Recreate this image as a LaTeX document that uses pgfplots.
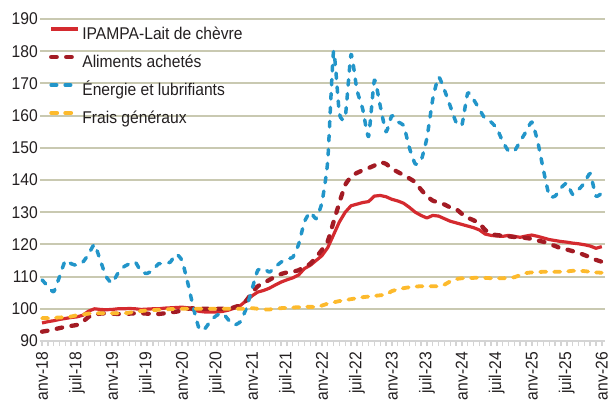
\documentclass[border=0pt]{standalone}
\usepackage{fontspec}
\setmainfont{Liberation Sans}[FakeStretch=0.92]
\usepackage{pgfplots}
\usepackage{pgfplotstable}
\pgfplotsset{compat=1.18}
\definecolor{cRed}{HTML}{D42A2F}
\definecolor{cDark}{HTML}{A31B24}
\definecolor{cBlue}{HTML}{2295C9}
\definecolor{cYel}{HTML}{FDBA2C}
\definecolor{cGrid}{HTML}{C9C9B1}
\definecolor{cAx}{HTML}{D4D4D4}
\definecolor{cTxt}{HTML}{231F20}
\pgfplotstableread{
m  ip    al    en    fr
0  95.6  92.9  109   97.1
1  96.0  93.2  107   97.1
2  96.3  93.6  105.3 97.2
3  96.7  94.0  110   97.3
4  97.0  94.4  115   97.4
5  97.3  94.7  114   97.6
6  97.5  95.0  113.5 98.0
7  98.0  96.0  114.5 98.2
8  99.3  97.5  117   98.5
9  100.0 98.2  120   98.6
10 99.8  98.5  115   98.6
11 99.7  98.6  110   98.6
12 99.8  98.5  108   98.6
13 100.0 98.4  111   98.6
14 100.0 98.4  113   98.6
15 100.1 98.5  114   98.8
16 100.0 98.6  114.5 99.1
17 99.8  98.6  111.5 99.3
18 99.9  98.5  111   99.5
19 100.0 98.4  112   99.6
20 100.0 98.4  114   99.7
21 100.2 98.6  114   99.8
22 100.3 98.9  114.5 99.9
23 100.4 99.1  117   100
24 100.5 99.5  115   100
25 100.3 100.0 108   100
26 99.6  100.2 100   100
27 99.2  100.1 93.5  100
28 99.0  100.0 94    100
29 99.0  100.0 96.5  100
30 99.0  100.0 98    100
31 99.2  100.0 98.6  100
32 99.6  100.0 96.5  100
33 100.2 100.5 95    100
34 101.0 101.2 96    100
35 102.5 102.5 100   100
36 104.0 105.0 106   100.2
37 105.2 107.0 112   100
38 105.7 108.0 112.5 99.8
39 106.4 109.0 111.4 99.8
40 107.4 110.0 113   100
41 108.3 110.8 114.5 100.2
42 109.0 111.3 115.5 100.3
43 109.6 111.5 116   100.4
44 110.5 112.0 120   100.5
45 112.5 113.0 127   100.6
46 113.5 114.0 130   100.6
47 115.0 116.0 128   100.6
48 116.5 118.3 133   101.0
49 119.0 121.0 146   101.6
50 123.0 127.0 180   102.0
51 127.0 133.0 160.5 102.4
52 130.0 138.5 159.5 102.7
53 132.0 141.0 179   103.0
54 132.5 142.2 168   103.3
55 133.0 143.0 162   103.6
56 133.3 143.7 153.5 103.8
57 135.0 144.5 171   104.0
58 135.2 145.5 163   104.2
59 134.8 145.0 155   104.4
60 134.0 143.5 160   105.5
61 133.5 142.5 158   106.0
62 132.8 141.5 157   106.4
63 131.5 140.5 150   106.7
64 130.0 139.3 145   106.9
65 129.0 137.0 146   107.0
66 128.2 135.0 153   107.0
67 129.0 133.6 165   107.0
68 128.8 133.0 172   107.0
69 128.0 132.4 168   107.5
70 127.2 131.5 163   108.5
71 126.7 131.0 158   109.2
72 126.2 129.5 157   109.5
73 125.7 128.3 167   109.5
74 125.2 127.5 165   109.6
75 124.5 126.5 162   109.7
76 123.2 124.5 159   109.6
77 122.8 123.2 158   109.5
78 122.6 122.9 156   109.5
79 122.5 122.7 152   109.5
80 122.8 122.5 149   109.6
81 122.5 122.3 149   109.8
82 122.2 122.2 152   110.5
83 122.6 122.0 155   111.1
84 122.9 121.7 158   111.3
85 122.5 121.2 152   111.4
86 122.0 120.8 143   111.5
87 121.5 120.2 135   111.5
88 121.2 119.5 135   111.5
89 120.9 118.8 137.5 111.5
90 120.7 118.4 139   111.6
91 120.4 117.9 135.5 111.8
92 120.2 117.4 137   111.8
93 119.9 116.7 139   111.7
94 119.5 116.0 142   111.5
95 118.8 115.2 135   111.3
96 119.3 114.6 136   111.2
}\datatab

\begin{document}
\begin{tikzpicture}
\begin{axis}[
  name=main,
  scale only axis, width=565bp, height=322bp,
  xmin=-0.35, xmax=96.55, ymin=90, ymax=190,
  axis x line*=bottom, axis y line*=left,
  y axis line style={draw=none},
  x axis line style={draw=cAx, line width=1.5bp},
  ytick={90,100,...,190},
  xtick={0,6,...,96},
  xticklabels={anv-18,juil-18,anv-19,juil-19,anv-20,juil-20,anv-21,juil-21,anv-22,juil-22,anv-23,juil-23,anv-24,juil-24,anv-25,juil-25,anv-26},
  minor x tick num=5,
  tick align=outside,
  major tick length=5bp, minor tick length=5bp,
  every tick/.style={draw=cAx, line width=1.4bp},
  ytick style={draw=none},
  ymajorgrids, grid style={draw=cGrid, line width=2bp},
  /pgf/number format/assume math mode=true,
  tick label style={font=\fontsize{17bp}{20bp}\selectfont, text=cTxt},
  xticklabel style={yshift=-6bp, rotate=90, anchor=east, inner sep=0pt},
  yticklabel style={xshift=3bp, anchor=east, inner sep=0pt},
  legend style={at={(axis description cs:0.016,0.9767)}, anchor=north west,
    draw=none, fill=none, inner sep=0pt, outer sep=0pt,
    row sep=11bp, column sep=2bp,
    font=\fontsize{17bp}{20bp}\selectfont, text=cTxt,
    nodes={inner sep=0pt, text height=13bp, text depth=4bp}},
  legend cell align=left,
  legend image code/.code={\draw[#1, yshift=6bp] (0bp,0bp) -- (27bp,0bp);},
  line join=round,
]
\addplot[draw=cRed, line width=3.2bp, no markers] table[x=m, y=ip] {\datatab};
\addlegendentry{IPAMPA-Lait de chèvre}
\addplot[draw=cDark, line width=4.3bp, no markers, line cap=round, dash pattern=on 5.5bp off 9.5bp, smooth, tension=0.3] table[x=m, y=al] {\datatab};
\addlegendentry{Aliments achetés}
\addplot[draw=cBlue, line width=3.5bp, no markers, line cap=round, dash pattern=on 5.5bp off 8.5bp, smooth, tension=0.3] table[x=m, y=en] {\datatab};
\addlegendentry{Énergie et lubrifiants}
\addplot[draw=cYel, line width=3.8bp, no markers, line cap=round, dash pattern=on 6bp off 8bp, smooth, tension=0.3] table[x=m, y=fr] {\datatab};
\addlegendentry{Frais généraux}
\end{axis}
\pgfresetboundingbox
\path (main.south west) ++(-40bp,-64bp) rectangle ++(610bp,405bp);
\end{tikzpicture}
\end{document}
